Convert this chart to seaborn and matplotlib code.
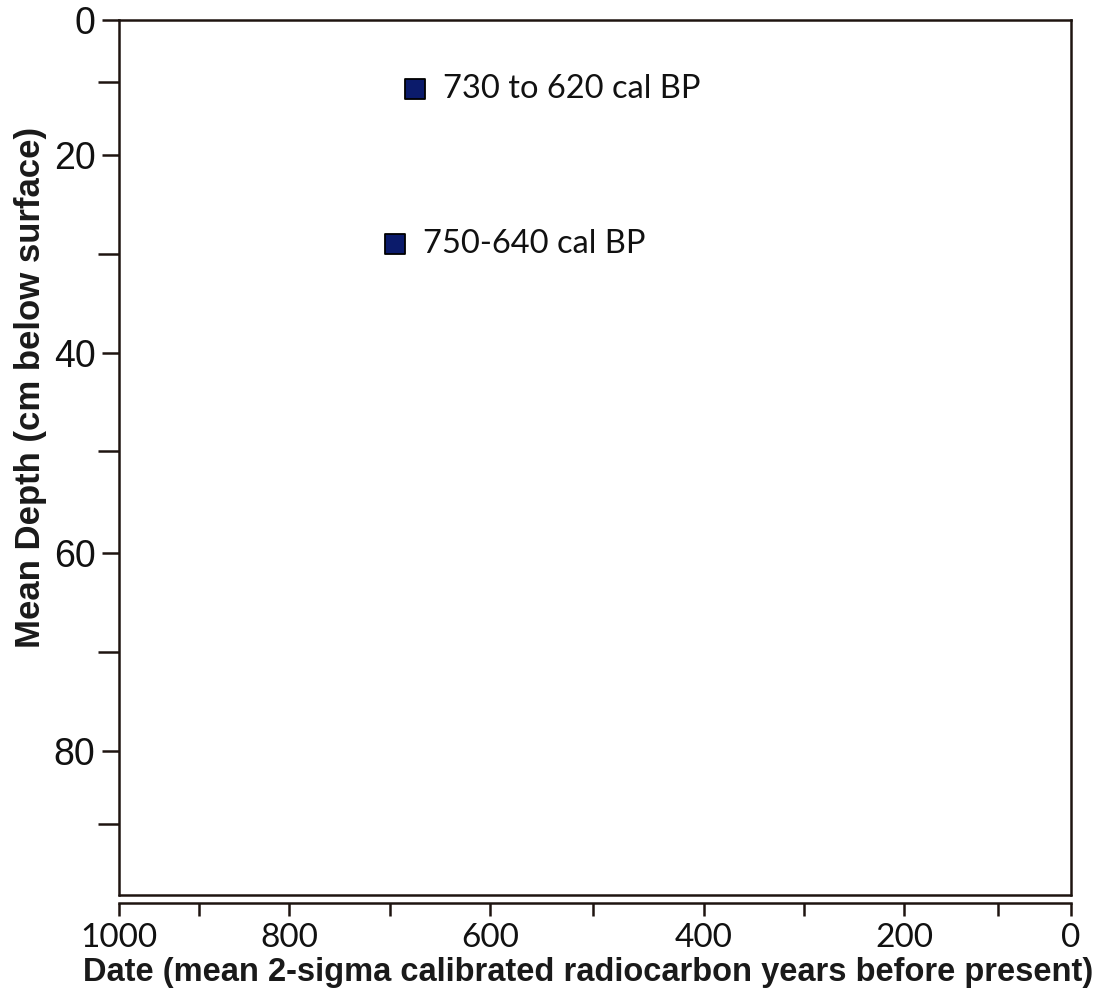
import numpy as np
import pandas as pd
import seaborn as sns
import matplotlib.pyplot as plt

# mean of the 2-sigma calibrated range and sample depth
date_labels = ["730 to 620 cal BP", "750-640 cal BP"]
date_bp = [675, 695]
depth_cm = [11, 29]

x_major = [1000, 800, 600, 400, 200, 0]
x_minor = [900, 700, 500, 300, 100]
y_major = [0, 20, 40, 60, 80]
y_minor = [10, 30, 50, 70, 90]

# the original axes are hand drawn, ticks are not evenly spaced.
# knots give the place of each tick along the axis (0..1)
x_knots = [-1000, 0, 100, 200, 300, 400, 500, 600, 700, 800, 900, 1000, 2000]
x_frac = [-1, 0, .077, .175, .280, .386, .502, .610, .715, .821, .916, 1, 2]
y_knots = [-100, 0, 10, 20, 30, 40, 50, 60, 70, 80, 90, 98, 300]
y_frac = [-1, 0, .071, .154, .267, .381, .493, .609, .722, .836, .919, 1, 3]


def knot_scale(vals, fracs):
    return (lambda v: np.interp(v, vals, fracs),
            lambda t: np.interp(t, fracs, vals))


sns.set_style("white")
plt.rcParams['font.family'] = ['Liberation Sans', 'DejaVu Sans']

ink = '#1e1410'
df = pd.DataFrame({"date": date_bp, "depth": depth_cm, "label": date_labels})

fig = plt.figure(figsize=(11.03, 9.92), dpi=100)
ax = fig.add_axes([0.1079, 0.0978, 0.8631, 0.8821])
sns.scatterplot(data=df, x="date", y="depth", marker="s", s=190,
                color="#0b1b6b", edgecolor="black", linewidth=1.3,
                legend=False, ax=ax, zorder=3)

for _, r in df.iterrows():
    ax.annotate(r.label, (r.date, r.depth), xytext=(20, 0),
                textcoords='offset points', va='center', ha='left',
                fontfamily='Lato', fontsize=23.5, color='#111111')

ax.set_xscale('function', functions=knot_scale(x_knots, x_frac))
ax.set_yscale('function', functions=knot_scale(y_knots, y_frac))
ax.set_xlim(1000, 0)
ax.set_ylim(98, 0)

ax.set_xticks(x_major)
ax.set_xticks(x_minor, minor=True)
ax.set_yticks(y_major)
ax.set_yticks(y_minor, minor=True)
ax.set_xticklabels([str(v) for v in x_major])
ax.set_yticklabels([str(v) for v in y_major])
ax.xaxis.set_minor_formatter(plt.NullFormatter())
ax.yaxis.set_minor_formatter(plt.NullFormatter())

for side in ['left', 'right', 'top', 'bottom']:
    ax.spines[side].set_color(ink)
    ax.spines[side].set_linewidth(1.8)
ax.spines['bottom'].set_position(('outward', 6))
ax.axhline(98, color=ink, lw=1.8, clip_on=False)

ax.tick_params(axis='both', which='both', direction='out', width=1.8,
               color=ink, labelcolor='#111111', bottom=True, left=True)
ax.tick_params(axis='y', which='major', length=12, pad=5, labelsize=27)
ax.tick_params(axis='y', which='minor', length=15)
ax.tick_params(axis='x', which='both', length=9, pad=5, labelsize=24)
for lbl in ax.get_xticklabels():
    lbl.set_fontfamily('Lato')

ax.set_xlabel("Date (mean 2-sigma calibrated radiocarbon years before present)",
              fontsize=23.5, fontweight='bold', color='#1a1a1a')
ax.xaxis.set_label_coords(0.493, -0.071)
ax.set_ylabel("Mean Depth (cm below surface)", fontsize=25,
              fontweight='bold', color='#1a1a1a')
ax.yaxis.set_label_coords(-0.076, 0.58)

plt.savefig("out.png", dpi=100)
